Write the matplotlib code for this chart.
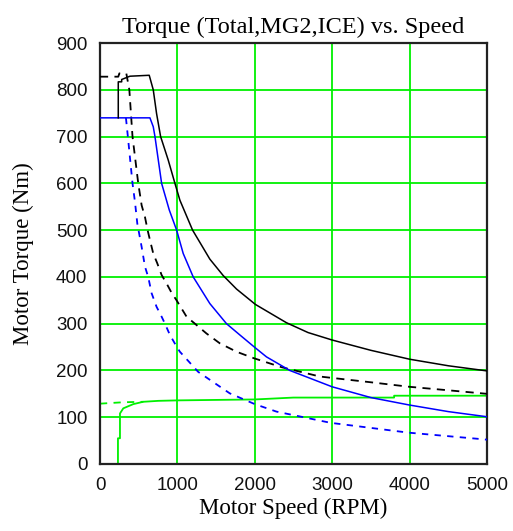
import matplotlib
matplotlib.use("Agg")
import matplotlib.pyplot as plt

# ---- data ----
total_rpm = [236, 236, 280, 280, 387, 636, 688, 731, 783, 881, 968, 1032, 1196, 1419, 1591, 1764,
             2009, 2409, 2688, 3000, 3500, 4000, 4500, 5000]
total_tq = [740, 817, 817, 822, 829, 831, 800, 749, 700, 650, 600, 564, 500, 438, 403, 374,
            341, 302, 281, 265, 243, 224, 210, 199]

total2_rpm = [0, 236, 250, 340, 379, 420, 494, 538, 581, 615, 645, 688, 740, 796, 860, 925, 989, 1118,
              1226, 1376, 1548, 1764, 1990, 2344, 2840, 3000, 3484, 4000, 4473, 5000]
total2_tq = [828, 828, 835, 835, 800, 700, 600, 553, 528, 500, 479, 450, 429, 404, 386, 366, 350, 315,
             300, 279, 258, 240, 226, 207, 187, 184, 175, 165, 158, 150]

mg2_rpm = [0, 645, 688, 710, 753, 796, 895, 990, 1075, 1204, 1419, 1634, 1806, 2009, 2151, 2452,
           3000, 3500, 4000, 4500, 5000]
mg2_tq = [740, 740, 721, 700, 650, 600, 543, 500, 450, 400, 343, 300, 276, 248, 229, 200,
          165, 142, 126, 112, 101]

mg2b_rpm = [335, 360, 420, 452, 482, 538, 581, 624, 667, 731, 796, 839, 903, 990, 1032, 1268, 1677,
            2000, 2280, 2980, 3987, 4940, 5000]
mg2b_tq = [740, 700, 600, 560, 514, 464, 422, 399, 365, 336, 315, 300, 276, 251, 240, 197, 151,
           128, 112, 88, 67, 53, 52]

ice_rpm = [232, 232, 258, 258, 301, 430, 559, 753, 1000, 2000, 2500, 3800, 3800, 5000]
ice_tq = [0, 55, 55, 108, 119, 128, 133, 135, 136, 138, 142, 142, 146, 146]

ice2_rpm = [0, 300, 560]
ice2_tq = [129, 132, 133]

x_ticks = [0, 1000, 2000, 3000, 4000, 5000]
y_ticks = [0, 100, 200, 300, 400, 500, 600, 700, 800, 900]

title = "Torque (Total,MG2,ICE) vs. Speed"
xlabel = "Motor Speed (RPM)"
ylabel = "Motor Torque (Nm)"

# ---- figure ----
fig = plt.figure(figsize=(5.13, 5.31), dpi=100)
ax = fig.add_axes([100 / 513, 1 - 464 / 531, 387 / 513, 421 / 531])

green = "#00f000"
ax.set_xlim(0, 5000)
ax.set_ylim(0, 900)
ax.set_xticks(x_ticks)
ax.set_yticks(y_ticks)
ax.grid(True, color=green, linewidth=1.3, zorder=0)
ax.set_axisbelow(True)

ax.plot(ice2_rpm, ice2_tq, color=green, lw=1.3, linestyle=(0, (4, 3.5)), zorder=2)
ax.plot(ice_rpm, ice_tq, color=green, lw=1.3, zorder=2)
ax.plot(mg2b_rpm, mg2b_tq, color="#0000ff", lw=1.3, linestyle=(0, (3.5, 3.5)), zorder=3)
ax.plot(total2_rpm, total2_tq, color="black", lw=1.3, linestyle=(0, (4.5, 3.5)), zorder=3)
ax.plot(mg2_rpm, mg2_tq, color="#0000ff", lw=1.1, zorder=4)
ax.plot(total_rpm, total_tq, color="black", lw=1.1, zorder=4)

for s in ax.spines.values():
    s.set_linewidth(1.6)
    s.set_color("#222222")

ax.tick_params(length=0, pad=9, labelsize=13.5, colors="#111111")
for lab in ax.get_xticklabels() + ax.get_yticklabels():
    lab.set_fontfamily("Liberation Sans")

ax.set_title(title, fontfamily="Liberation Serif", fontsize=17.5, pad=7)
ax.set_xlabel(xlabel, fontfamily="Liberation Serif", fontsize=16.5, labelpad=3)
ax.set_ylabel(ylabel, fontfamily="Liberation Serif", fontsize=16.5, labelpad=16)

fig.savefig("out.png", dpi=100)
